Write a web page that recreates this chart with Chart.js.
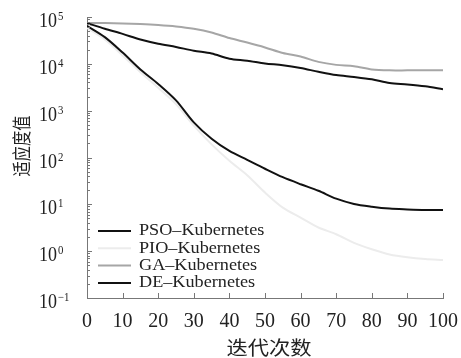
<!DOCTYPE html>
<html>
<head>
<meta charset="utf-8">
<script src="https://cdn.jsdelivr.net/npm/chart.js@4"></script>
<style>
  body { margin: 0; background: #fff; }
  canvas { display: block; }
</style>
</head>
<body>
<canvas id="grafico" width="461" height="358"></canvas>
<script>
// =============================
// DATOS
// =============================
const iteraciones = [0, 5, 10, 15, 20, 25, 30, 35, 40, 45, 50, 55, 60, 65, 70, 75, 80, 85, 90, 95, 100];

const pso = [74000, 56200, 43600, 33100, 26900, 22900, 19100, 16600, 12900, 11700, 10200, 9330, 8130, 6760, 5750, 5250, 4680, 3890, 3630, 3310, 2880];
const pio = [58900, 33100, 15100, 6610, 3090, 1380, 479, 191, 85, 41.7, 17.8, 8.5, 5.2, 3.2, 2.3, 1.5, 1.1, 0.85, 0.74, 0.68, 0.65];
const ga = [74000, 74000, 73000, 70800, 67600, 63000, 56200, 46800, 35500, 28500, 22400, 17000, 14300, 11000, 9500, 8900, 7600, 7250, 7250, 7250, 7250];
const de = [64600, 37200, 17400, 7590, 3720, 1660, 562, 251, 138, 89, 57.5, 38, 26.9, 19.5, 13.2, 10.2, 8.9, 8.1, 7.8, 7.6, 7.6];

const nombres = ["PSO\u2013Kubernetes", "PIO\u2013Kubernetes", "GA\u2013Kubernetes", "DE\u2013Kubernetes"];
const exponentes = [-1, 0, 1, 2, 3, 4, 5];
const ticksX = [0, 10, 20, 30, 40, 50, 60, 70, 80, 90, 100];

const tituloX = "迭代次数";
const tituloY = "适应度值";

const colores = ["#111111", "#ececec", "#a6a6a6", "#111111"];

// =============================
// PLUGIN: ticks, etiquetas, leyenda
// =============================
const decoracion = {
  id: "decoracion",
  afterDraw(chart) {
    const ctx = chart.ctx;
    const sx = chart.scales.x;
    const sy = chart.scales.y;
    const area = chart.chartArea;

    ctx.save();
    ctx.strokeStyle = "#777";
    ctx.lineWidth = 1;

    // ticks eje Y (hacia adentro)
    exponentes.forEach(e => {
      const y = Math.round(sy.getPixelForValue(Math.pow(10, e))) + 0.5;
      ctx.beginPath();
      ctx.moveTo(area.left, y);
      ctx.lineTo(area.left + 5, y);
      ctx.stroke();
      if (e < 5) {
        for (let m = 2; m <= 9; m++) {
          const ym = Math.round(sy.getPixelForValue(m * Math.pow(10, e))) + 0.5;
          ctx.beginPath();
          ctx.moveTo(area.left, ym);
          ctx.lineTo(area.left + 3, ym);
          ctx.stroke();
        }
      }
    });

    // ticks eje X (hacia arriba)
    ticksX.forEach(v => {
      const x = Math.round(sx.getPixelForValue(v)) + 0.5;
      ctx.beginPath();
      ctx.moveTo(x, area.bottom);
      ctx.lineTo(x, area.bottom - 5);
      ctx.stroke();
    });

    // etiquetas eje Y: 10^n
    ctx.fillStyle = "#222";
    ctx.textAlign = "left";
    ctx.textBaseline = "alphabetic";
    exponentes.forEach(e => {
      const y = sy.getPixelForValue(Math.pow(10, e));
      ctx.save();
      ctx.translate(39, y + 10);
      ctx.scale(0.9, 1);
      ctx.font = "20px 'Liberation Serif'";
      ctx.fillText("10", 0, 0);
      const w = ctx.measureText("10").width;
      ctx.font = "12px 'Liberation Serif'";
      ctx.fillText(e < 0 ? "\u2212" + (-e) : String(e), w + 1, -7);
      ctx.restore();
    });

    // títulos
    ctx.font = "19px 'Noto Sans CJK SC'";
    ctx.textAlign = "center";
    ctx.textBaseline = "middle";
    ctx.save();
    ctx.translate(269, 348);
    ctx.scale(1.12, 1);
    ctx.fillText(tituloX, 0, 0);
    ctx.restore();

    ctx.save();
    ctx.translate(22, 146);
    ctx.rotate(-Math.PI / 2);
    ctx.scale(0.8, 1);
    ctx.fillText(tituloY, 0, 0);
    ctx.restore();

    // leyenda
    ctx.textAlign = "left";
    ctx.textBaseline = "middle";
    chart.data.datasets.forEach((ds, i) => {
      const y = 231 + i * 17.3;
      ctx.strokeStyle = ds.borderColor;
      ctx.lineWidth = 2;
      ctx.beginPath();
      ctx.moveTo(98, y);
      ctx.lineTo(131, y);
      ctx.stroke();
      ctx.save();
      ctx.translate(139, y);
      ctx.scale(1.07, 1);
      ctx.font = "17px 'Liberation Serif'";
      ctx.fillStyle = "#222";
      ctx.fillText(ds.label, 0, 0);
      ctx.restore();
    });

    ctx.restore();
  }
};

// =============================
// GRÁFICO
// =============================
const series = [pso, pio, ga, de];
const ordenDibujo = [0, 3, 2, 1];

new Chart(document.getElementById("grafico"), {
  type: "line",
  data: {
    datasets: series.map((s, i) => ({
      label: nombres[i],
      data: iteraciones.map((x, j) => ({ x, y: s[j] })),
      borderColor: colores[i],
      borderWidth: 2,
      pointRadius: 0,
      tension: 0.3,
      fill: false,
      order: ordenDibujo[i]
    }))
  },
  options: {
    responsive: false,
    animation: false,
    devicePixelRatio: 1,
    layout: { padding: { top: 17, right: 0, left: 0, bottom: 0 } },
    plugins: {
      legend: { display: false },
      tooltip: { enabled: false }
    },
    scales: {
      x: {
        type: "linear",
        min: 0,
        max: 100,
        afterBuildTicks: s => { s.ticks = ticksX.map(v => ({ value: v })); },
        afterFit: s => { s.height = 60; s.paddingRight = 18; },
        grid: { display: false },
        border: { display: true, color: "#777" },
        ticks: {
          padding: 4,
          color: "#222",
          font: { family: "'Liberation Serif'", size: 20 },
          maxRotation: 0,
          autoSkip: false
        }
      },
      y: {
        type: "logarithmic",
        min: 0.1,
        max: 100000,
        afterFit: s => { s.width = 87; },
        grid: { display: false },
        border: { display: true, color: "#777" },
        ticks: { display: false }
      }
    }
  },
  plugins: [decoracion]
});
</script>
</body>
</html>
